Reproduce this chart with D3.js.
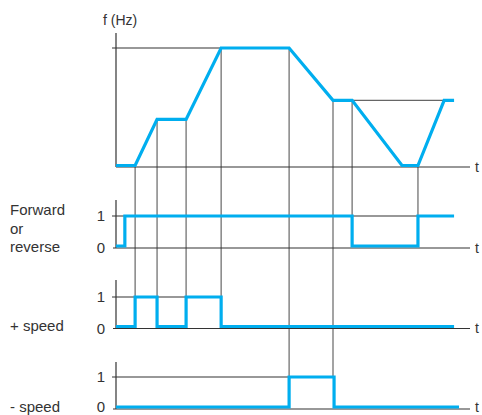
<!DOCTYPE html>
<html>
<head>
<meta charset="utf-8">
<script src="https://cdn.jsdelivr.net/npm/d3@7"></script>
<style>
  html, body { margin: 0; padding: 0; background: #fff; }
  svg { display: block; }
  text { font-family: "Liberation Sans", Arial, Helvetica, sans-serif; fill: #333; }
</style>
</head>
<body>
<svg id="chart" width="482" height="415"></svg>
<script>
// ---- data (time in arbitrary units 0..100, frequency in Hz) ----
const freqTimes  = [0, 5.4, 11.6, 19.8, 29.7, 48.9, 61.3, 66.7, 80.8, 85.3, 92.7, 95.5];
const freqValues = [0, 0,   20,   20,   50,   50,   28,   28,   0,    0,    28,   28];

const fwdTimes  = [0, 2.5, 66.7, 85.3, 95.5];
const fwdValues = [0, 1,   0,    1,    1];

const plusTimes  = [0, 5.4, 11.6, 19.8, 29.7, 95.5];
const plusValues = [0, 1,   0,    1,    0,    0];

const minusTimes  = [0, 48.9, 61.6, 96.9];
const minusValues = [0, 1,    0,    0];

const guideTimes  = [5.4, 11.6, 19.8, 29.7, 48.9, 61.3, 66.7, 85.3];
const guideFreq   = [0,   20,   20,   50,   50,   28,   28,   0];
const guidePanel  = ["plus", "plus", "plus", "plus", "minus", "minus", "fwd", "fwd"];

const panelNames  = ["fwd", "plus", "minus"];
const panelLabels = [["Forward", "or", "reverse"], ["+ speed"], ["- speed"]];
const panelOneEnd = [85.3, 29.7, 48.9];   // extent of the thin "1" reference line
const levelTicks  = ["0", "1"];
const freqMax = 50;

// ---- layout ----
const svg = d3.select("#chart");
const blue = "#00aeef";
const axisCol = "#333";
const guideCol = "#666";
const tEndX = 470;

const x = d3.scaleLinear().domain([0, 100]).range([116, 470]);
const yF = d3.scaleLinear().domain([0, freqMax]).range([167, 48]);

const panelGeom = {
  fwd:   { y1: 216, y0: 248,   top: 200, label: 215, dy: "0.36em" },
  plus:  { y1: 297, y0: 328.5, top: 280, label: 331, dy: "0.36em" },
  minus: { y1: 377, y0: 409,   top: 362, label: 412, dy: "0.22em" }
};
const panelScale = {};
panelNames.forEach(n => {
  const g = panelGeom[n];
  panelScale[n] = d3.scaleLinear().domain([0, 1]).range([g.y0, g.y1]);
});

// ---- guide lines (behind) ----
const guides = svg.append("g").attr("stroke", guideCol).attr("stroke-width", 1.2);
guideTimes.forEach((t, i) => {
  guides.append("line")
    .attr("x1", x(t)).attr("x2", x(t))
    .attr("y1", yF(guideFreq[i]))
    .attr("y2", panelScale[guidePanel[i]](1));
});
// frequency reference lines
guides.append("line")
  .attr("x1", x(0) - 4).attr("x2", x(freqTimes[4]))
  .attr("y1", yF(freqMax)).attr("y2", yF(freqMax)).attr("stroke", axisCol);
guides.append("line")
  .attr("x1", x(freqTimes[7])).attr("x2", x(freqTimes[10]))
  .attr("y1", yF(freqValues[7])).attr("y2", yF(freqValues[7]));

// ---- frequency axis ----
const fAx = svg.append("g").attr("stroke", axisCol).attr("stroke-width", 1.2);
fAx.append("line").attr("x1", x(0)).attr("x2", x(0)).attr("y1", 33).attr("y2", yF(0));
fAx.append("line").attr("x1", x(0)).attr("x2", tEndX).attr("y1", yF(0)).attr("y2", yF(0));
svg.append("text").attr("x", 103).attr("y", 25).attr("font-size", 14).text("f (Hz)");
svg.append("text").attr("x", 475).attr("y", yF(0)).attr("dy", "0.35em").attr("font-size", 14).text("t");

// ---- digital panels axes ----
panelNames.forEach((n, i) => {
  const g = panelGeom[n], s = panelScale[n];
  const a = svg.append("g").attr("stroke", axisCol).attr("stroke-width", 1.2);
  a.append("line").attr("x1", x(0)).attr("x2", x(0)).attr("y1", g.top).attr("y2", s(0));
  a.append("line").attr("x1", x(0) - 3).attr("x2", tEndX).attr("y1", s(0)).attr("y2", s(0));
  a.append("line").attr("x1", x(0) - 4).attr("x2", x(panelOneEnd[i])).attr("y1", s(1)).attr("y2", s(1));
  levelTicks.forEach((lbl, v) => {
    svg.append("text").attr("x", 105).attr("y", s(v)).attr("dy", v === 0 ? g.dy : "0.36em")
      .attr("text-anchor", "end").attr("font-size", 15).text(lbl);
  });
  svg.append("text").attr("x", 475).attr("y", s(0)).attr("dy", g.dy === "0.36em" ? "0.35em" : "0.2em")
    .attr("font-size", 14).text("t");
  panelLabels[i].forEach((l, k) => {
    svg.append("text").attr("x", 10).attr("y", g.label + k * 18.5).attr("font-size", 15).text(l);
  });
});

// ---- blue signal lines ----
const freqLine = d3.line()
  .x(d => x(d[0]))
  .y(d => d[1] === 0 ? yF(0) - 1.5 : yF(d[1]));
svg.append("path")
  .datum(freqTimes.map((t, i) => [t, freqValues[i]]))
  .attr("d", freqLine)
  .attr("fill", "none").attr("stroke", blue).attr("stroke-width", 3.2)
  .attr("stroke-linejoin", "miter");

const series = { fwd: [fwdTimes, fwdValues], plus: [plusTimes, plusValues], minus: [minusTimes, minusValues] };
panelNames.forEach(n => {
  const s = panelScale[n];
  const [ts, vs] = series[n];
  const line = d3.line()
    .x(d => x(d[0]))
    .y(d => d[1] === 0 ? s(0) - 2 : s(1))
    .curve(d3.curveStepAfter);
  svg.append("path")
    .datum(ts.map((t, i) => [t, vs[i]]))
    .attr("d", line)
    .attr("fill", "none").attr("stroke", blue).attr("stroke-width", 3.2)
    .attr("stroke-linejoin", "miter");
});
</script>
</body>
</html>
